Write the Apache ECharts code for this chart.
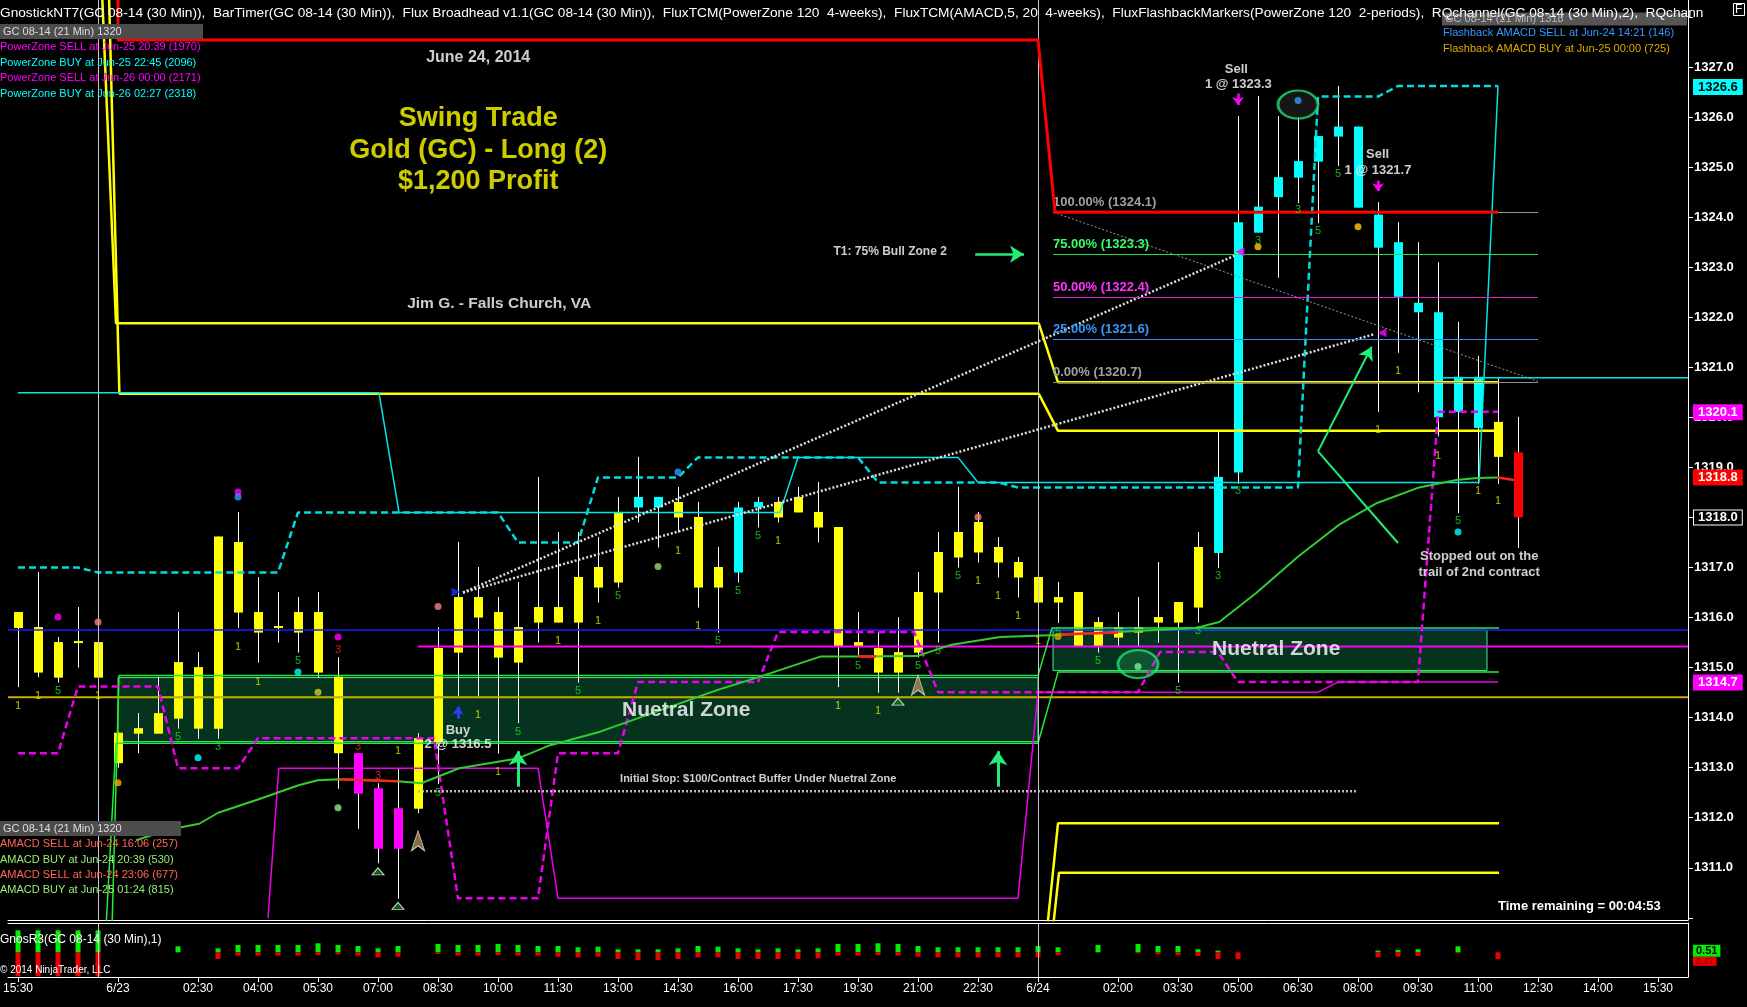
<!DOCTYPE html>
<html><head><meta charset="utf-8">
<script src="https://cdn.jsdelivr.net/npm/echarts@6/dist/echarts.min.js"></script>
<style>html,body{margin:0;padding:0;background:#000;}#c{width:1747px;height:1007px;}</style>
</head><body><div id="c"></div>
<script>
const FONT = '"Liberation Sans", Arial, Helvetica, sans-serif';

// ---------- categories (30-min bars) ----------
const categories = ['6/20 15:30','6/20 16:00','6/20 16:30','6/20 17:00','6/22 18:00','6/23 00:00','6/23 00:30','6/23 01:00','6/23 02:00','6/23 02:30','6/23 03:00','6/23 03:30','6/23 04:00','6/23 04:30','6/23 05:00','6/23 05:30','6/23 06:00','6/23 06:30','6/23 07:00','6/23 07:30','6/23 08:00','6/23 08:30','6/23 09:00','6/23 09:30','6/23 10:00','6/23 10:30','6/23 11:00','6/23 11:30','6/23 12:00','6/23 12:30','6/23 13:00','6/23 13:30','6/23 14:00','6/23 14:30','6/23 15:00','6/23 15:30','6/23 16:00','6/23 16:30','6/23 17:00','6/23 17:30','6/23 18:30','6/23 19:00','6/23 19:30','6/23 20:00','6/23 20:30','6/23 21:00','6/23 21:30','6/23 22:00','6/23 22:30','6/23 23:00','6/23 23:30','6/24 00:00','6/24 00:30','6/24 01:00','6/24 01:30','6/24 02:00','6/24 02:30','6/24 03:00','6/24 03:30','6/24 04:00','6/24 04:30','6/24 05:00','6/24 05:30','6/24 06:00','6/24 06:30','6/24 07:00','6/24 07:30','6/24 08:00','6/24 08:30','6/24 09:00','6/24 09:30','6/24 10:00','6/24 10:30','6/24 11:00','6/24 11:30','6/24 12:00','6/24 12:30','6/24 13:00','6/24 13:30','6/24 14:00','6/24 14:30','6/24 15:00','6/24 15:30','6/24 16:00'];
const tickIndex = [0,5,9,12,15,18,21,24,27,30,33,36,39,42,45,48,51,55,58,61,64,67,70,73,76,79,82];

// ---------- price bars ----------
const open = [1316.11,1315.81,1315.51,1315.51,1315.51,1313.70,1313.79,1314.09,1315.11,1315.01,
 1317.62,1317.51,1316.11,1315.81,1316.11,1316.11,1314.82,1313.29,1312.59,1312.19,
 1313.59,1315.39,1316.41,1316.41,1316.11,1315.81,1316.21,1316.21,1316.81,1317.01,
 1318.11,1318.41,1318.41,1318.31,1318.01,1317.01,1318.20,1318.31,1318.31,1318.41,
 1318.11,1317.81,1315.51,1315.39,1315.31,1316.51,1317.31,1317.71,1317.91,1317.41,
 1317.11,1316.81,1316.41,1316.51,1315.91,1315.81,1315.81,1316.01,1316.31,1317.41,
 1318.81,1323.90,1324.21,1324.80,1325.12,1325.62,1325.81,1325.81,1324.05,1323.50,
 1322.29,1322.10,1320.81,1320.81,1319.91,1319.30];
const close = [1315.79,1314.90,1314.80,1315.51,1314.80,1313.09,1313.68,1313.68,1313.98,1313.78,
 1313.78,1316.10,1315.70,1315.81,1315.70,1314.90,1313.29,1312.48,1311.38,1311.38,
 1312.18,1313.51,1315.30,1316.00,1315.20,1315.10,1315.90,1315.90,1315.90,1316.60,
 1316.70,1318.20,1318.20,1318.00,1316.60,1316.60,1316.90,1318.20,1318.00,1318.10,
 1317.80,1315.42,1315.42,1314.90,1314.90,1315.30,1316.50,1317.20,1317.30,1317.10,
 1316.80,1316.30,1316.30,1315.43,1315.43,1315.60,1315.70,1315.90,1315.90,1316.20,
 1317.29,1318.90,1323.69,1324.40,1324.79,1325.11,1325.61,1324.19,1323.39,1322.41,
 1322.10,1320.00,1320.11,1319.79,1319.21,1318.00];
const high = [1316.11,1316.91,1315.61,1316.21,1315.51,1313.70,1314.09,1314.82,1316.11,1315.31,
 1317.62,1318.11,1316.81,1316.51,1316.41,1316.51,1315.21,1313.29,1312.69,1312.99,
 1313.69,1315.81,1317.51,1317.01,1316.41,1316.71,1318.81,1317.71,1317.71,1317.61,
 1318.41,1319.21,1318.41,1318.61,1318.31,1317.41,1318.31,1318.41,1318.41,1318.61,
 1318.71,1317.81,1316.11,1315.71,1316.01,1316.91,1317.71,1318.61,1318.11,1317.61,
 1317.21,1316.91,1316.71,1316.51,1316.01,1316.11,1316.41,1317.11,1316.31,1317.71,
 1319.73,1326.02,1326.42,1326.02,1326.01,1325.62,1326.62,1325.81,1324.30,1323.90,
 1323.50,1323.10,1321.91,1321.23,1320.80,1320.01];
const low = [1314.61,1314.81,1314.70,1315.00,1314.80,1313.00,1313.29,1313.68,1313.78,1313.58,
 1313.58,1315.79,1315.10,1315.50,1315.30,1314.80,1312.58,1311.78,1311.09,1310.38,
 1312.09,1312.67,1314.42,1314.42,1313.28,1313.89,1315.50,1315.90,1314.70,1316.30,
 1316.60,1317.90,1317.40,1317.70,1316.20,1315.70,1316.70,1317.80,1317.90,1318.10,
 1317.50,1314.61,1315.22,1314.50,1314.50,1315.20,1315.50,1317.00,1317.10,1316.80,
 1316.40,1315.89,1315.89,1315.43,1315.30,1315.43,1315.43,1315.50,1314.70,1315.90,
 1316.99,1318.67,1323.69,1322.79,1324.28,1323.88,1325.02,1324.19,1320.11,1321.29,
 1320.50,1319.62,1318.09,1318.67,1318.67,1317.39];
const barColor = 'YYYYYYYYYYYYYYYYYMMMYYYYYYYYYYYCCYYYCCYYYYYYYYYYYYYYYYYYYYYYCCCCCCCCCCCCCCYR'.split('');

// ---------- lower pane (GnosR3) ----------
const r3Up = [22,22,22,22,22,null,null,null,6,null,
 4,7.3,7.3,7.3,7.3,9,7.3,6.3,4,6.3,
 null,8.3,7.3,7.3,8.3,7.3,6.3,6.3,5,5.7,
 3,3,3,4,6.3,5.7,4,3,4,3,
 4,8.3,8.3,9,8.3,6.3,5,5,5,5,
 5,6.3,5,null,7.3,null,8.3,6.3,6.3,3,
 1.7,null,null,null,null,null,null,null,1.7,2.3,
 3,null,6,null,null,null,null,null,null,null,
 null,null,null,null];
const r3Down = [-24,-24,-24,-24,-24,null,null,null,null,null,
 -6.7,-3.3,-3.3,-3.3,-3.3,-2.7,-2,-3.3,-5,-4.3,
 null,-1.7,-3.3,-3.3,-2.7,-3.3,-3.3,-4.3,-5,-4.3,
 -6.7,-7.7,-7.7,-6.7,-5,-5,-6.7,-6.7,-6.7,-6.7,
 -6,-3.3,-3.3,-2.7,-3.3,-4.3,-5,-5,-5,-5,
 -5,-5,-2.7,null,null,null,-1,-2,-2.7,-3.7,
 -6.7,-6.7,null,null,null,null,null,null,-5,-4.3,
 -3.7,null,-1,null,-6.7,null,null,null,null,null,
 null,null,null,null];

// ---------- indicator lines [barIndex, price] ----------
const redLine = [[5.0,1328.6],[5.0,1327.54],[51.0,1327.54],[51.85,1324.1],[74.0,1324.1]];
const yellowLineA = [[4.19,1328.6],[4.9,1321.88],[51.04,1321.88],[52.0,1320.70],[74.0,1320.70]];
const yellowLineB = [[4.54,1328.6],[5.07,1320.47],[51.04,1320.47],[52.0,1319.73],[74.0,1319.73]];
const yellowLowA = [[51.46,1309.8],[52.0,1311.89],[74.05,1311.89]];
const yellowLowB = [[51.75,1309.8],[52.05,1310.90],[74.05,1310.90]];
const cyanSolid = [[0,1320.49],[18.05,1320.49],[19.05,1318.10],[38.1,1318.10],[39.0,1319.20],[47.0,1319.20],[48.0,1318.70],[73.05,1318.70],[74.0,1326.62]];
const cyanRecent = [[71.2,1320.79],[83.5,1320.79]];
const cyanDashed = [[0,1317.0],[3,1317.0],[4,1316.9],[13,1316.9],[14,1318.1],[24,1318.1],[25,1317.5],[28,1317.5],[29,1318.8],[33,1318.8],[34,1319.2],[42,1319.2],[43,1318.7],[49,1318.7],[50,1318.6],[64,1318.6],[65,1326.41],[68,1326.41],[69,1326.62],[74,1326.62]];
const magentaDashed = [[0,1313.29],[2,1313.29],[3,1314.62],[7,1314.62],[8,1312.99],[11,1312.99],[12,1313.59],[20.8,1313.59],[22,1310.39],[26,1310.39],[27,1313.29],[30,1313.29],[31,1314.71],[37,1314.71],[38,1315.71],[44.8,1315.71],[46,1314.51],[56,1314.51],[57.1,1315.31],[60,1315.31],[61,1314.71],[70,1314.71],[71,1320.11],[74,1320.11]];
const magentaSolid = [[12.5,1310.0],[13.04,1312.99],[26.0,1312.99],[27.0,1310.39],[50.0,1310.39],[51.0,1314.51],[65.0,1314.51],[66.0,1314.71],[74.0,1314.71]];
const magentaLevel = [[20,1315.42],[83.5,1315.42]];
const blueLevel = [[-0.5,1315.75],[83.5,1315.75]];
const goldLevel = [[-0.5,1314.41],[83.5,1314.41]];
const greenMA = [[5.9,1311.55],[6.76,1311.66],[7.76,1311.78],[9.06,1311.88],[10.01,1312.10],[11.96,1312.36],[14.03,1312.65],[14.99,1312.75],[16.05,1312.77],[19.0,1312.73],[20.16,1312.69],[22.06,1312.99],[25.04,1313.19],[26.61,1313.45],[29.11,1313.72],[34.95,1314.55],[37.11,1314.82],[40.11,1315.22],[42.0,1315.22],[44.95,1315.23],[46.61,1315.45],[49.11,1315.61],[51.91,1315.65],[58.91,1315.79],[60.06,1315.91],[61.91,1316.49],[64.01,1317.22],[66.04,1317.85],[67.96,1318.29],[70.06,1318.60],[71.91,1318.75],[72.96,1318.79],[74.0,1318.80]];
const redMA = [[[16.05,1312.77],[19.0,1312.73]],[[42.0,1315.22],[42.9,1315.22]],[[52.0,1315.66],[55.0,1315.70]],[[74.0,1318.80],[74.8,1318.75]]];
const zoneTopLine = [[4.7,1309.8],[5.05,1314.84],[51.0,1314.84],[51.7,1315.79],[74.05,1315.79]];
const zoneBotLine = [[4.4,1309.8],[4.9,1313.49],[51.0,1313.49],[52.0,1314.91],[74.05,1314.91]];
const dotUpper = [[22.25,1316.5],[61.0,1323.26]];
const dotLower = [[22.25,1316.5],[67.8,1321.66]];
const stopLine = [[20.0,1312.53],[67.0,1312.53]];
const broadhead = [[51.75,1324.1],[76.0,1320.72]];
const zones = [[5.0,1314.80,51.0,1313.52],[51.75,1315.75,73.45,1314.94]];

// ---------- fib levels, price flags ----------
const fibLevels = [[1324.1,'100.00% (1324.1)','#a0a0a0','#909090'],[1323.26,'75.00% (1323.3)','#33ff66','#22dd55'],[1322.40,'50.00% (1322.4)','#ff33ff','#e020e0'],[1321.56,'25.00% (1321.6)','#3399ff','#2f8fef'],[1320.70,'0.00% (1320.7)','#a0a0a0','#909090']];
const priceFlags = [[1326.6,'#00ffff','#000000','#00ffff'],[1320.1,'#ff00ff','#ffffff','#ff00ff'],[1318.8,'#ff0000','#ffffff','#ff0000'],[1318.0,'#000000','#ffffff','#ffffff'],[1314.7,'#ff00ff','#ffffff','#ff00ff']];

// ---------- markers ----------
const barNumbers = [[0,1314.24,'1','Y'],[1,1314.44,'1','Y'],[2,1314.53,'5','G'],[4,1314.44,'1','Y'],[8,1313.61,'5','G'],[10,1313.41,'3','G'],[11,1315.42,'1','Y'],[12,1314.72,'1','Y'],[14,1315.13,'5','G'],[16,1315.35,'3','R'],[17,1313.42,'3','R'],[18,1312.83,'3','R'],[19,1313.33,'1','Y'],[21,1312.50,'5','G'],[23,1314.05,'1','Y'],[24,1312.92,'1','Y'],[25,1313.71,'5','G'],[27,1315.53,'1','Y'],[28,1314.53,'5','G'],[29,1315.93,'1','Y'],[30,1316.43,'5','G'],[33,1317.33,'1','Y'],[34,1315.83,'1','Y'],[35,1315.53,'5','G'],[36,1316.53,'5','G'],[37,1317.63,'5','G'],[38,1317.53,'1','Y'],[41,1314.23,'1','Y'],[42,1315.03,'5','G'],[43,1314.13,'1','Y'],[45,1315.03,'5','G'],[46,1315.33,'5','G'],[47,1316.83,'5','G'],[48,1316.73,'1','Y'],[49,1316.43,'1','Y'],[50,1316.03,'1','Y'],[51,1315.53,'1','Y'],[52,1315.72,'5','G'],[54,1315.13,'5','G'],[58,1314.53,'5','G'],[59,1315.73,'3','G'],[60,1316.83,'3','G'],[61,1318.52,'3','G'],[62,1323.52,'3','G'],[64,1324.14,'3','G'],[65,1323.72,'5','G'],[66,1324.86,'5','G'],[68,1319.75,'1','Y'],[69,1320.93,'1','Y'],[71,1319.23,'1','Y'],[72,1317.93,'5','G'],[73,1318.52,'1','Y'],[74,1318.33,'1','Y']];
const dots = [[2,1316.01,'#ff00ff'],[4,1315.91,'#ff7f7f'],[5,1312.70,'#ffaa00'],[9,1313.20,'#00ffff'],[11,1318.51,'#ff00ff'],[11,1318.41,'#3399ff'],[14,1314.91,'#00ffff'],[15,1314.51,'#cccc33'],[16,1315.61,'#ff00ff'],[16,1312.20,'#88ee88'],[21,1316.22,'#ff7f7f'],[32,1317.02,'#99dd66'],[33,1318.91,'#3399ff'],[48,1318.01,'#ff7f7f'],[52,1315.62,'#ddaa00'],[56,1315.02,'#77ee99'],[62,1323.41,'#ffcc00'],[64,1326.33,'#3399ff'],[67,1323.81,'#ffcc00'],[72,1317.71,'#00ffff']];
const ellipses = [[64,1326.25,'#1c1c1c'],[56,1315.07,'rgba(40,170,100,0.35)']];
const triangles = [[18,1310.93],[19,1310.24],[44,1314.32]];
const arrowIcons = [[20,1311.74],[45,1314.85]];
const annotations = [
 [23.01,1327.18,'June 24, 2014','#ffffff',16],
 [23.01,1325.98,'Swing Trade','#ffff00',27],
 [23.01,1325.34,'Gold (GC) - Long (2)','#ffff00',27],
 [23.01,1324.72,'$1,200 Profit','#ffff00',27],
 [24.06,1322.28,'Jim G. - Falls Church, VA','#ffffff',15.5],
 [43.61,1323.32,'T1: 75% Bull Zone 2','#ffffff',12],
 [60.92,1326.95,'Sell','#ffffff',13],
 [61.02,1326.66,'1 @ 1323.3','#ffffff',13],
 [67.98,1325.25,'Sell','#ffffff',13],
 [68.0,1324.94,'1 @ 1321.7','#ffffff',13],
 [22.0,1313.75,'Buy','#ffffff',13],
 [22.0,1313.47,'2 @ 1316.5','#ffffff',13],
 [33.41,1314.15,'Nuetral Zone','#ffffff',21],
 [62.91,1315.36,'Nuetral Zone','#ffffff',21],
 [37.01,1312.77,'Initial Stop: $100/Contract Buffer Under Nuetral Zone','#ffffff',11],
 [73.06,1317.22,'Stopped out on the','#ffffff',13],
 [73.06,1316.91,'trail of 2nd contract','#ffffff',13]
];
// arrows: [from, to, color, width, headSize]
const arrows = [
 [[25,1312.62],[25,1313.33],'#22ee77',3,[14,14]],
 [[49,1312.62],[49,1313.33],'#22ee77',3,[14,14]],
 [[47.86,1323.26],[50.3,1323.26],'#22ee77',2.5,[13,14]],
 [[65.0,1319.32],[67.68,1321.41],'#22ee77',2,[12,13]],
 [[61,1326.47],[61,1326.24],'#ff00ff',2.5,[9,8]],
 [[68,1324.73],[68,1324.52],'#ff00ff',2.5,[9,8]],
 [[22,1313.98],[22,1314.22],'#2244ff',3,[9,8]]
];
const arrowTails = [[[69.0,1317.49],[65.0,1319.32],'#22ee77',2]];

const headerText = 'GnostickNT7(GC 08-14 (30 Min)),  BarTimer(GC 08-14 (30 Min)),  Flux Broadhead v1.1(GC 08-14 (30 Min)),  FluxTCM(PowerZone 120  4-weeks),  FluxTCM(AMACD,5, 20  4-weeks),  FluxFlashbackMarkers(PowerZone 120  2-periods),  RQchannel(GC 08-14 (30 Min),2),  RQchann';
const infoTexts = [
 {text: headerText, left:0, top:6, size:13.7, color:'#ffffff', lh:15},
 {text:'GC 08-14 (21 Min) 1320', left:0, top:24, size:11, color:'#dddddd', lh:11, bg:'#4d4d4d', pad:[2,3,2,3], w:197},
 {text:'PowerZone SELL at Jun-25 20:39 (1970)', left:0, top:40, size:11, color:'#ff00ff', lh:13},
 {text:'PowerZone BUY at Jun-25 22:45 (2096)', left:0, top:56, size:11, color:'#00ffff', lh:13},
 {text:'PowerZone SELL at Jun-26 00:00 (2171)', left:0, top:71.5, size:11, color:'#ff00ff', lh:13},
 {text:'PowerZone BUY at Jun-26 02:27 (2318)', left:0, top:87, size:11, color:'#00ffff', lh:13},
 {text:'GC 08-14 (21 Min) 1320', left:0, top:821, size:11, color:'#dddddd', lh:11, bg:'#4d4d4d', pad:[2,3,2,3], w:175},
 {text:'AMACD SELL at Jun-24 16:06 (257)', left:0, top:837.5, size:11, color:'#ff6655', lh:13},
 {text:'AMACD BUY at Jun-24 20:39 (530)', left:0, top:853, size:11, color:'#99ee77', lh:13},
 {text:'AMACD SELL at Jun-24 23:06 (677)', left:0, top:868, size:11, color:'#ff6655', lh:13},
 {text:'AMACD BUY at Jun-25 01:24 (815)', left:0, top:883.5, size:11, color:'#99ee77', lh:13},
 {text:'GC 08-14 (21 Min) 1318', left:1442, top:13, size:11, color:'#bbbbbb', lh:10, bg:'#555555', pad:[1,3,1,3], w:239},
 {text:'Flashback AMACD SELL at Jun-24 14:21 (146)', left:1443, top:26, size:11, color:'#3399ff', lh:13},
 {text:'Flashback AMACD BUY at Jun-25 00:00 (725)', left:1443, top:42, size:11, color:'#ddaa00', lh:13},
 {text:'F', left:1733, top:3, size:12, color:'#ffffff', lh:13, pad:[0,2,0,2], bc:'#ffffff', bw:1},
 {text:'Time remaining = 00:04:53', left:1498, top:898.5, size:13, color:'#ffffff', lh:15, weight:'bold'},
 {text:'GnosR3(GC 08-14 (30 Min),1)', left:0, top:933, size:12, color:'#ffffff', lh:14},
 {text:'\u00a9 2014 NinjaTrader, LLC', left:0, top:964, size:10, color:'#ffffff', lh:12}
];

// ---------- build ----------
const colorMap = {Y:'#ffff00', M:'#ff00ff', C:'#00ffff', R:'#ff0000', G:'#22dd22'};
const numColor = {Y:'#e8e800', G:'#22dd22', R:'#ff2a2a'};
const tickSet = new Set(tickIndex);
const candleData = open.map((o,i)=>[i, o, close[i], low[i], high[i]]);

function ln(data, color, width, type, z){
  return {type:'line', xAxisIndex:0, yAxisIndex:0, data, symbol:'none', silent:true, clip:true,
    lineStyle:{color, width, type: type||'solid'}, z: z||4, animation:false};
}

const series = [];
series.push({type:'line', xAxisIndex:0, yAxisIndex:0, data:[], z:1, silent:true,
  markLine:{silent:true, symbol:'none', label:{show:false}, lineStyle:{color:'#c8c8c8', width:1, type:'solid'},
    data:[{xAxis:4.02},{xAxis:51.0}]}});
series.push({type:'custom', xAxisIndex:0, yAxisIndex:0, z:2, silent:true, data:candleData, clip:true,
  encode:{x:0, y:[1,2,3,4]},
  renderItem:function(params, api){
    const i = params.dataIndex;
    const x = api.value(0), o = api.value(1), c = api.value(2), l = api.value(3), h = api.value(4);
    const pT = api.coord([x, Math.max(o,c)]), pB = api.coord([x, Math.min(o,c)]);
    const pH = api.coord([x, h]), pL = api.coord([x, l]);
    const cx = Math.round(pT[0]);
    let y0 = pT[1], hh = pB[1]-pT[1];
    if (hh < 2) { y0 = (pT[1]+pB[1])/2 - 1; hh = 2; }
    return {type:'group', children:[
      {type:'line', shape:{x1:cx+0.5, y1:pH[1], x2:cx+0.5, y2:pL[1]}, style:{stroke:'#ffffff', lineWidth:1}},
      {type:'rect', shape:{x:cx-4, y:y0, width:9, height:hh}, style:{fill:colorMap[barColor[i]]}}
    ]};
  }});
series.push({type:'line', xAxisIndex:0, yAxisIndex:0, data:[], z:3, silent:true,
  markArea:{silent:true, itemStyle:{color:'rgba(30,255,150,0.2)', borderColor:'#44ee99', borderWidth:1},
    data: zones.map(zn=>[{coord:[zn[0],zn[1]]},{coord:[zn[2],zn[3]]}])}});
series.push(ln(goldLevel,'#c8b000',2));
series.push(ln(blueLevel,'#1a1aff',1.5));
series.push(ln(magentaLevel,'#ff00ff',2));
series.push(ln(zoneTopLine,'#22ee33',1.5));
series.push(ln(zoneBotLine,'#22ee33',1.5));
series.push(ln(yellowLineA,'#ffff00',2.5));
series.push(ln(yellowLineB,'#ffff00',2.5));
series.push(ln(yellowLowA,'#ffff00',2.5));
series.push(ln(yellowLowB,'#ffff00',2.5));
series.push(ln(magentaSolid,'#ee00ee',1.5));
series.push(ln(magentaDashed,'#ee00ee',2.5,[7,4]));
series.push(ln(cyanSolid,'#00e5e5',1.5));
series.push(ln(cyanRecent,'#00e5e5',1.5));
series.push(ln(cyanDashed,'#00dddd',2.5,[7,4]));
series.push(ln(greenMA,'#33cc33',2));
redMA.forEach(seg=>series.push(ln(seg,'#ff2020',2.5)));
series.push(ln(dotUpper,'#dddddd',2.5,[2,2]));
series.push(ln(dotLower,'#dddddd',2.5,[2,2]));
series.push(ln(stopLine,'#bbbbbb',2.5,[2,2]));
series.push(ln(broadhead,'#999999',1,[2,2]));
series.push({type:'line', xAxisIndex:0, yAxisIndex:0, data:[], z:4, silent:true,
  markLine:{silent:true, symbol:'none',
    data: fibLevels.map(f=>[{coord:[51.75,f[0]], lineStyle:{color:f[3], width:1, type:'solid'},
      label:{show:true, position:'insideStartTop', distance:[0,3], formatter:f[1], color:f[2], fontSize:13, fontWeight:'bold', fontFamily:FONT}},
      {coord:[76,f[0]]}])}});
series.push(ln(redLine,'#ff0000',3,'solid',5));
series.push({type:'scatter', xAxisIndex:0, yAxisIndex:0, z:5, silent:true, symbol:'circle', symbolSize:[40,28],
  data: ellipses.map(e=>({value:[e[0],e[1]], itemStyle:{color:e[2], borderColor:'#22dd77', borderWidth:2.5}}))});
series.push({type:'scatter', xAxisIndex:0, yAxisIndex:0, z:6, silent:true, symbol:'circle', symbolSize:7,
  data: dots.map(d=>({value:[d[0],d[1]], itemStyle:{color:d[2]}}))});
series.push({type:'scatter', xAxisIndex:0, yAxisIndex:0, z:6, silent:true, symbol:'triangle', symbolSize:[12,7],
  data: triangles.map(t=>({value:t, itemStyle:{color:'#117711', borderColor:'#ffffff', borderWidth:1}}))});
series.push({type:'scatter', xAxisIndex:0, yAxisIndex:0, z:6, silent:true, symbol:'arrow', symbolSize:[10,20],
  data: arrowIcons.map(t=>({value:t, itemStyle:{color:'#aa8855', borderColor:'#dddddd', borderWidth:1}}))});
series.push({type:'scatter', xAxisIndex:0, yAxisIndex:0, z:6, silent:true, symbol:'triangle', symbolSize:9,
  data:[{value:[21.9,1316.51], symbolRotate:-90, itemStyle:{color:'#1133ff'}},
        {value:[61.1,1323.31], symbolRotate:90, itemStyle:{color:'#ff00ff'}},
        {value:[68.2,1321.69], symbolRotate:90, itemStyle:{color:'#ff00ff'}}]});
series.push({type:'line', xAxisIndex:0, yAxisIndex:0, data:[], z:7, silent:true,
  markLine:{silent:true, label:{show:false}, symbol:['none','arrow'],
    data: arrows.map(a=>[{coord:a[0], symbol:'none', lineStyle:{color:a[2], width:a[3], type:'solid'}},
                         {coord:a[1], symbol:'arrow', symbolSize:a[4]}])
      .concat(arrowTails.map(a=>[{coord:a[0], symbol:'none', lineStyle:{color:a[2], width:a[3], type:'solid'}},{coord:a[1], symbol:'none'}]))}});
series.push({type:'scatter', xAxisIndex:0, yAxisIndex:0, z:8, silent:true, symbolSize:1, itemStyle:{color:'rgba(0,0,0,0)'},
  data: barNumbers.map(b=>({value:[b[0],b[1]], label:{show:true, position:'inside', formatter:b[2], color:numColor[b[3]], fontSize:11, fontFamily:FONT}}))});
series.push({type:'scatter', xAxisIndex:0, yAxisIndex:0, z:9, silent:true, symbolSize:1, itemStyle:{color:'rgba(0,0,0,0)'},
  data: annotations.map(a=>({value:[a[0],a[1]], label:{show:true, position:'inside', formatter:a[2], color:a[3], fontSize:a[4], fontWeight:'bold', fontFamily:FONT}}))});
series.push({type:'line', xAxisIndex:0, yAxisIndex:0, data:[], z:10, silent:true,
  markLine:{silent:true, symbol:'none', lineStyle:{color:'rgba(0,0,0,0)', width:0},
    data: priceFlags.map(f=>({yAxis:f[0], label:{show:true, position:'end', distance:6, formatter:f[0].toFixed(1),
      backgroundColor:f[1], color:f[2], borderColor:f[3], borderWidth:1, padding:[1,4,0,4], fontSize:13, fontWeight:'bold', fontFamily:FONT}}))}});
series.push({type:'bar', xAxisIndex:1, yAxisIndex:1, data:r3Up, stack:'r3', barWidth:5, silent:true, itemStyle:{color:'#00ee00'},
  markLine:{silent:true, symbol:'none', label:{show:false}, lineStyle:{color:'#c8c8c8', width:1, type:'solid'}, data:[{xAxis:4},{xAxis:51}]}});
series.push({type:'bar', xAxisIndex:1, yAxisIndex:1, data:r3Down, stack:'r3', barWidth:5, silent:true, itemStyle:{color:'#ee0000'},
  markLine:{silent:true, symbol:'none', lineStyle:{color:'rgba(0,0,0,0)', width:0},
    data:[{yAxis:1.5, label:{show:true, position:'end', distance:5, formatter:'0.51', backgroundColor:'#00ee00', color:'#000', padding:[1,3,0,3], fontSize:11, fontWeight:'bold'}},
          {yAxis:-9, label:{show:true, position:'end', distance:5, formatter:'0.47', backgroundColor:'#ee0000', color:'#880000', padding:[0,3,0,3], fontSize:9}}]}});

const option = {
  backgroundColor:'#000000',
  animation:false,
  textStyle:{fontFamily:FONT},
  title: infoTexts.map(t=>({text:t.text, left:t.left, top:t.top, padding:t.pad||0,
    backgroundColor:t.bg||'transparent', borderColor:t.bc||'transparent', borderWidth:t.bw||0, z:12,
    textStyle:{color:t.color, fontSize:t.size, fontWeight:t.weight||'normal', lineHeight:t.lh, width:t.w, fontFamily:FONT}})),
  grid:[{left:8, top:0, width:1680, height:920}, {left:8, top:923, width:1680, height:54}],
  xAxis:[
    {gridIndex:0, type:'value', min:-0.5, max:83.5, position:'bottom',
      axisLine:{show:true, onZero:false, lineStyle:{color:'#ffffff', width:1}}, axisTick:{show:false}, axisLabel:{show:false}, splitLine:{show:false}},
    {gridIndex:1, type:'category', data:categories, position:'bottom', boundaryGap:true,
      axisLine:{show:true, onZero:false, lineStyle:{color:'#ffffff'}},
      axisTick:{show:true, interval:(i)=>tickSet.has(i), alignWithLabel:true, length:5, lineStyle:{color:'#ffffff'}},
      axisLabel:{show:true, interval:(i)=>tickSet.has(i), color:'#ffffff', fontSize:12, margin:6, fontFamily:FONT,
        formatter:(v)=>{const p=v.split(' '); return p[1]==='00:00'?p[0]:p[1];}},
      splitLine:{show:false}},
    {gridIndex:1, type:'category', data:categories, position:'top', boundaryGap:true,
      axisLine:{show:true, onZero:false, lineStyle:{color:'#ffffff'}}, axisTick:{show:false}, axisLabel:{show:false}, splitLine:{show:false}}
  ],
  yAxis:[
    {gridIndex:0, type:'value', position:'right', min:1309.957, max:1328.339, splitNumber:18,
      axisLine:{show:true, onZero:false, lineStyle:{color:'#ffffff'}},
      axisTick:{show:true, length:5, lineStyle:{color:'#ffffff'}},
      axisLabel:{show:true, color:'#ffffff', fontSize:13, fontWeight:'bold', margin:6, fontFamily:FONT, showMinLabel:false, showMaxLabel:false,
        formatter:(v)=> (v<1310.5||v>1327.5)?'':v.toFixed(1)},
      splitLine:{show:false}},
    {gridIndex:1, type:'value', position:'right', min:-24.7, max:29.3,
      axisLine:{show:true, onZero:false, lineStyle:{color:'#ffffff'}}, axisTick:{show:false}, axisLabel:{show:false}, splitLine:{show:false}}
  ],
  series
};
const chart = echarts.init(document.getElementById('c'));
chart.setOption(option);
</script></body></html>
